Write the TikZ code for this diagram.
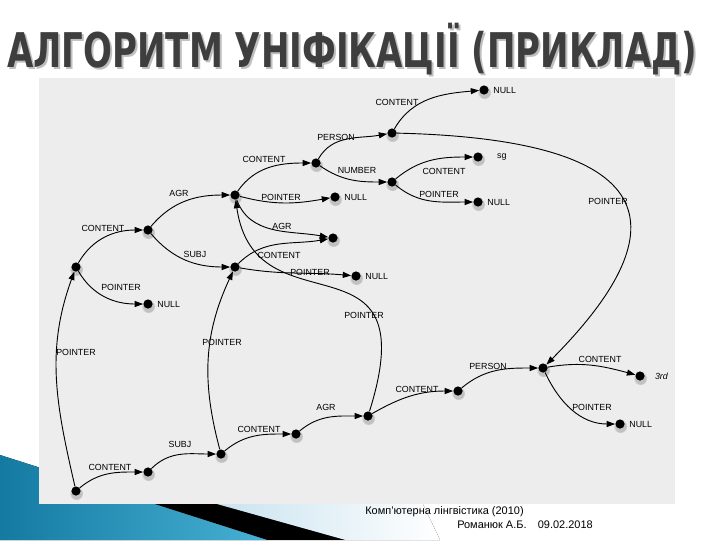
\documentclass[tikz,border=0pt]{standalone}
\usepackage{fontspec}
\setmainfont{Liberation Sans}
\newfontfamily\titlefont{DejaVu Sans}
\usepackage{tikz}
\usetikzlibrary{arrows.meta,positioning,shadows}
\definecolor{panelgray}{RGB}{237,237,237}
\definecolor{titlegray}{RGB}{62,62,62}
\definecolor{deckblue}{RGB}{20,122,162}
\definecolor{deckblueb}{RGB}{72,176,212}
\definecolor{decklight}{RGB}{196,224,238}
\tikzset{
  fsnode/.style={circle, fill=black, minimum size=2.3mm, inner sep=0pt,
    circular drop shadow={shadow xshift=0.2pt, shadow yshift=-1.2pt, shadow scale=1.45, opacity=0.4}},
  arc/.style={line width=0.65pt, -{Triangle[length=2.1mm,width=1.5mm]}},
  lbl/.style={font=\fontsize{6.3}{7}\selectfont, inner sep=0pt}
}

\begin{document}
\begin{tikzpicture}[x=0.025cm, y=0.025cm]
  \useasboundingbox (0,0) rectangle (720,-540);
  % slide decoration
  \fill[left color=decklight, right color=white] (195,-498) -- (420,-498) -- (440,-540) -- (345,-540) -- cycle;
  \fill[black] (120,-493) -- (195,-498) -- (345,-540) -- (267,-540) -- cycle;
  \fill[left color=deckblue, right color=deckblueb] (0,-455) -- (267,-540) -- (0,-540) -- cycle;
  \fill[panelgray] (39,-78) rectangle (675,-504);

  % title
  \node[anchor=base west, inner sep=0pt, text=black!25] (titleshadow) at (9,-69)
    {\titlefont\bfseries\resizebox{17.25cm}{\height}{\fontsize{34}{36}\selectfont АЛГОРИТМ УНІФІКАЦІЇ (ПРИКЛАД)}};
  \node[anchor=base west, inner sep=0pt, text=titlegray] (title) at (7,-67)
    {\titlefont\bfseries\resizebox{17.25cm}{\height}{\fontsize{34}{36}\selectfont АЛГОРИТМ УНІФІКАЦІЇ (ПРИКЛАД)}};

  % upper structure
  \node[fsnode] (a) at (76,-267) {};
  \node[fsnode] (b) at (148,-230) {};
  \node[fsnode] (c) at (235,-195) {};
  \node[fsnode] (d) at (235,-267) {};
  \node[fsnode] (null1) at (148,-304) {};
  \node[fsnode] (e) at (316,-163) {};
  \node[fsnode] (null2) at (335,-197) {};
  \node[fsnode] (f) at (333,-238) {};
  \node[fsnode] (null3) at (356,-276) {};
  \node[fsnode] (g) at (392,-133) {};
  \node[fsnode] (nulltop) at (484,-90) {};
  \node[fsnode] (h) at (392,-182) {};
  \node[fsnode] (sg) at (478,-157) {};
  \node[fsnode] (nullh) at (478,-202) {};
  % lower structure
  \node[fsnode] (l) at (76,-491) {};
  \node[fsnode] (m) at (148,-472) {};
  \node[fsnode] (n) at (221,-454) {};
  \node[fsnode] (o) at (296,-434) {};
  \node[fsnode] (k) at (368,-416) {};
  \node[fsnode] (j) at (458,-391) {};
  \node[fsnode] (i) at (543,-368) {};
  \node[fsnode] (third) at (640,-376) {};
  \node[fsnode] (nullb) at (620,-424) {};

  % values
  \node[lbl, right=3pt of null1] (vnull1) {NULL};
  \node[lbl, right=3pt of null2] (vnull2) {NULL};
  \node[lbl, right=3pt of null3] (vnull3) {NULL};
  \node[lbl, right=3pt of nulltop] (vnulltop) {NULL};
  \node[lbl, right=3pt of nullh] (vnullh) {NULL};
  \node[lbl, right=3pt of nullb] (vnullb) {NULL};
  \node[lbl, right=10pt of sg] (vsg) {sg};
  \node[lbl, right=7pt of third] (vthird) {\itshape 3rd};

  % arcs
  \draw[arc] (a) to[out=60, in=180] (b);
  \draw[arc] (a) to[out=-60, in=180] (null1);
  \draw[arc] (b) to[out=50, in=180] (c);
  \draw[arc] (b) to[out=-50, in=180] (d);
  \draw[arc] (c) to[out=55, in=180] (e);
  \draw[arc] (c) to[out=-15, in=-170] (null2);
  \draw[arc] (c) to[out=-70, in=170] (f);
  \draw[arc] (d) to[out=45, in=-170] (f);
  \draw[arc] (d) to[out=-10, in=175] (null3);
  \draw[arc] (e) to[out=60, in=-170] (g);
  \draw[arc] (e) to[out=-35, in=180] (h);
  \draw[arc] (g) to[out=60, in=-175] (nulltop);
  \draw[arc] (h) to[out=40, in=180] (sg);
  \draw[arc] (h) to[out=-40, in=180] (nullh);
  \draw[arc] (g) .. controls (690,-140) and (665,-245) .. (i);
  \draw[arc] (k) .. controls (428,-225) and (255,-335) .. (c);
  \draw[arc] (l) to[out=103, in=-110] (a);
  \draw[arc] (l) to[out=40, in=180] (m);
  \draw[arc] (m) to[out=45, in=180] (n);
  \draw[arc] (n) to[out=105, in=-115] (d);
  \draw[arc] (n) to[out=40, in=180] (o);
  \draw[arc] (o) to[out=40, in=180] (k);
  \draw[arc] (k) to[out=30, in=180] (j);
  \draw[arc] (j) to[out=40, in=180] (i);
  \draw[arc] (i) to[out=10, in=165] (third);
  \draw[arc] (i) to[out=-65, in=180] (nullb);

  % arc labels
  \node[lbl] (lab) at (103,-228) {CONTENT};
  \node[lbl] (lanull) at (121,-287) {POINTER};
  \node[lbl] (lbc) at (179,-193) {AGR};
  \node[lbl] (lbd) at (195,-254) {SUBJ};
  \node[lbl] (lce) at (264,-159) {CONTENT};
  \node[lbl] (lcnull) at (281,-197) {POINTER};
  \node[lbl] (lcf) at (282,-226) {AGR};
  \node[lbl] (ldf) at (279,-255) {CONTENT};
  \node[lbl] (ldnull) at (310,-272) {POINTER};
  \node[lbl] (leg) at (336,-137) {PERSON};
  \node[lbl] (leh) at (357,-170) {NUMBER};
  \node[lbl] (lgnull) at (397,-102) {CONTENT};
  \node[lbl] (lhsg) at (444,-171) {CONTENT};
  \node[lbl] (lhnull) at (439,-194) {POINTER};
  \node[lbl] (lgi) at (608,-201) {POINTER};
  \node[lbl] (lkc) at (364,-315) {POINTER};
  \node[lbl] (lla) at (76,-352) {POINTER};
  \node[lbl] (lnd) at (222,-342) {POINTER};
  \node[lbl] (llm) at (110,-467) {CONTENT};
  \node[lbl] (lmn) at (180,-444) {SUBJ};
  \node[lbl] (lno) at (259,-429) {CONTENT};
  \node[lbl] (lok) at (326,-407) {AGR};
  \node[lbl] (lkj) at (417,-389) {CONTENT};
  \node[lbl] (lji) at (488,-366) {PERSON};
  \node[lbl] (lithird) at (600,-359) {CONTENT};
  \node[lbl] (linull) at (592,-407) {POINTER};

  % footer
  \node[anchor=base west, inner sep=0pt, font=\fontsize{7.8}{9}\selectfont] (foot1) at (365,-514)
    {Комп'ютерна лінгвістика (2010)};
  \node[anchor=base east, inner sep=0pt, font=\fontsize{7.8}{9}\selectfont] (foot2) at (593,-528)
    {Романюк А.Б.\hspace{8pt}09.02.2018};
\end{tikzpicture}
\end{document}
